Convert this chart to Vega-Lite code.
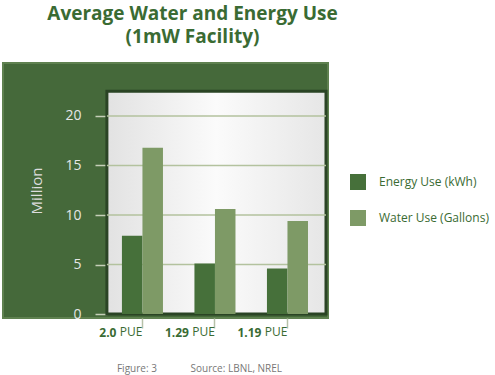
{
  "$schema": "https://vega.github.io/schema/vega-lite/v6.json",
  "width": 325,
  "height": 255,
  "autosize": {"type": "none"},
  "padding": {"left": 3, "top": 63, "right": 167, "bottom": 57},
  "background": "white",
  "config": {
    "font": "Open Sans",
    "view": {"fill": "#45693a", "stroke": "#5f8150", "strokeWidth": 2}
  },
  "title": {
    "text": ["Average Water and Energy Use", "(1mW Facility)"],
    "font": "Open Sans",
    "fontSize": 19,
    "fontWeight": "bold",
    "color": "#3a6b33",
    "anchor": "middle",
    "dx": 27,
    "offset": 16,
    "lineHeight": 23.5
  },
  "datasets": {
    "usage": [
      {"pue": "2.0", "series": "Energy Use (kWh)", "value": 7.9},
      {"pue": "2.0", "series": "Water Use (Gallons)", "value": 16.8},
      {"pue": "1.29", "series": "Energy Use (kWh)", "value": 5.1},
      {"pue": "1.29", "series": "Water Use (Gallons)", "value": 10.6},
      {"pue": "1.19", "series": "Energy Use (kWh)", "value": 4.6},
      {"pue": "1.19", "series": "Water Use (Gallons)", "value": 9.4}
    ],
    "grid": [{"g": 5}, {"g": 10}, {"g": 15}, {"g": 20}],
    "panel": [{"lo": 0, "hi": 22.5}]
  },
  "layer": [
    {
      "data": {"name": "panel"},
      "mark": {
        "type": "rect",
        "color": {
          "gradient": "linear",
          "x1": 0, "x2": 1, "y1": 0, "y2": 0,
          "stops": [
            {"offset": 0, "color": "#e2e2e2"},
            {"offset": 0.5, "color": "#fbfbfb"},
            {"offset": 1, "color": "#e6e6e6"}
          ]
        },
        "stroke": "#2a4424",
        "strokeWidth": 3
      },
      "encoding": {
        "x": {"datum": "2.0", "type": "nominal", "bandPosition": -0.366,
              "scale": {"type": "band", "domain": ["2.0", "1.29", "1.19"], "paddingInner": 0.434, "paddingOuter": 0.958, "align": 0.856}},
        "x2": {"datum": "1.19", "bandPosition": 1.439},
        "y": {"field": "lo", "type": "quantitative",
              "scale": {"domain": [-0.4, 25.35], "nice": false, "zero": false}},
        "y2": {"field": "hi"}
      }
    },
    {
      "data": {"name": "grid"},
      "mark": {"type": "rule", "color": "#b3c29e", "strokeWidth": 1.5},
      "encoding": {
        "x": {"datum": "2.0", "type": "nominal", "bandPosition": -0.366},
        "x2": {"datum": "1.19", "bandPosition": 1.439},
        "y": {"field": "g", "type": "quantitative"}
      }
    },
    {
      "data": {"name": "usage"},
      "mark": {"type": "bar"},
      "encoding": {
        "x": {
          "field": "pue", "type": "nominal",
          "axis": {
            "orient": "bottom",
            "domain": false,
            "tickSize": 10,
            "tickColor": "#b7c1a8",
            "tickWidth": 1.5,
            "labelExpr": "'PUE'",
            "labelAlign": "right",
            "labelAngle": 0,
            "labelFontSize": 12,
            "labelColor": "#3a6b33",
            "labelPadding": 3,
            "title": "Figure: 3\u00a0\u00a0\u00a0\u00a0\u00a0\u00a0\u00a0\u00a0\u00a0\u00a0\u00a0\u00a0\u00a0Source: LBNL, NREL",
            "titleFontSize": 10,
            "titleFontWeight": "normal",
            "titleColor": "#777777",
            "titlePadding": 26,
            "titleX": 196
          }
        },
        "xOffset": {"field": "series", "type": "nominal"},
        "y": {
          "field": "value", "type": "quantitative",
          "axis": {
            "values": [0, 5, 10, 15, 20],
            "offset": -104,
            "domain": false,
            "grid": false,
            "tickSize": 12,
            "tickColor": "#c5cfb8",
            "tickWidth": 1.5,
            "labelFontSize": 14,
            "labelColor": "#e6e6e6",
            "labelPadding": 14,
            "title": "Million",
            "titleFontSize": 15,
            "titleFontWeight": "normal",
            "titleColor": "#dddddd",
            "titlePadding": 20
          }
        },
        "color": {
          "field": "series", "type": "nominal",
          "scale": {"domain": ["Energy Use (kWh)", "Water Use (Gallons)"], "range": ["#46703a", "#7e9a66"]},
          "legend": {
            "orient": "none",
            "legendX": 347,
            "legendY": 111,
            "title": null,
            "symbolType": "square",
            "symbolSize": 256,
            "symbolStrokeWidth": 0,
            "symbolOpacity": 1,
            "labelFontSize": 12,
            "labelColor": "#3a6b33",
            "labelOffset": 13,
            "rowPadding": 20
          }
        }
      }
    },
    {
      "data": {"name": "usage"},
      "transform": [{"filter": "datum.series === 'Energy Use (kWh)'"}],
      "mark": {"type": "text", "align": "right", "baseline": "top", "dx": -26, "fontSize": 12, "fontWeight": "bold", "color": "#3a6b33"},
      "encoding": {
        "x": {"field": "pue", "type": "nominal"},
        "y": {"datum": -1.39, "type": "quantitative"},
        "text": {"field": "pue"}
      }
    }
  ]
}
